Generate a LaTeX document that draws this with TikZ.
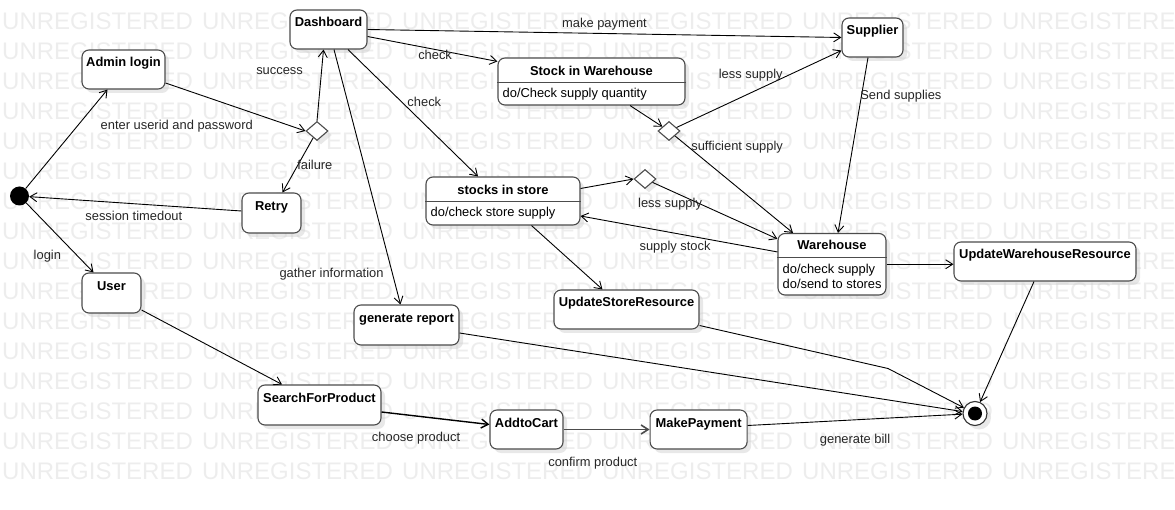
\documentclass[tikz,border=0pt]{standalone}
\usepackage{fontspec}
\setmainfont{Liberation Sans}
\usetikzlibrary{shapes.geometric, arrows.meta, shadows, positioning}

\begin{document}
\begin{tikzpicture}[
    x=1pt, y=-1pt,
    state/.style={rectangle, draw=black!70, line width=1.1pt, fill=white, rounded corners=7pt, minimum height=39pt, inner sep=0pt, text height=9pt, text depth=14pt, font=\fontsize{12.9}{15}\selectfont\bfseries, drop shadow={shadow xshift=4pt, shadow yshift=-4pt, fill=black!18}},
    compstate/.style={rectangle, draw=black!70, line width=1.1pt, fill=white, rounded corners=7pt, inner sep=0pt, drop shadow={shadow xshift=4pt, shadow yshift=-4pt, fill=black!18}},
    choice/.style={diamond, draw=black!70, line width=1.1pt, fill=white, inner sep=0pt, minimum width=22pt, minimum height=19pt, drop shadow={shadow xshift=4pt, shadow yshift=-4pt, fill=black!18}},
    initstate/.style={circle, fill=black, inner sep=0pt, minimum size=19pt},
    endstate/.style={circle, draw=black!80, line width=1.1pt, fill=white, inner sep=0pt, minimum size=24pt, path picture={\fill[black] (path picture bounding box.center) circle (7pt);}, drop shadow={shadow xshift=4pt, shadow yshift=-4pt, fill=black!18}},
    title/.style={font=\fontsize{12.9}{15}\selectfont\bfseries, inner sep=0pt, anchor=base},
    body/.style={font=\fontsize{12.9}{14.7}\selectfont, inner sep=0pt, align=left, anchor=base west},
    divider/.style={draw=black!70, line width=1.1pt},
    lbl/.style={font=\fontsize{12.9}{15}\selectfont, text=black!85, inner sep=1pt},
    line/.style={draw, line width=0.9pt, -{Straight Barb[length=7pt, width=9pt]}},
    watermark/.style={font=\fontsize{24}{24}\selectfont, text=black!7, inner sep=0pt, anchor=west}
]
\useasboundingbox (0,0) rectangle (1175,510);

% Background watermark
\foreach \row in {0,...,15}
  \foreach \col in {0,...,5}
    \node[watermark] (wm-\row-\col) at ({2+200*\col},{21.5+30*\row}) {UNREGISTERED};

% Place the states
\node [initstate] (init) at (19.5,196) {};
\node [state, minimum width=83pt] (admin) at (123.5,69.5) {Admin login};
\node [state, minimum width=77pt] (dash) at (328.5,29.5) {Dashboard};
\node [choice] (d1) at (317,131) {};
\node [state, minimum width=59pt, minimum height=40pt] (retry) at (271.5,213) {Retry};
\node [state, minimum width=59pt, minimum height=40pt] (user) at (111.5,293) {User};
\node [state, minimum width=123pt, minimum height=40pt] (search) at (319.5,405) {SearchForProduct};
\node [state, minimum width=105pt, minimum height=40pt] (report) at (406.5,325) {generate report};
\node [state, minimum width=61pt] (supplier) at (872.5,37.5) {Supplier};
\node [state, minimum width=182pt] (updwh) at (1045,261.5) {UpdateWarehouseResource};
\node [state, minimum width=145pt] (updstore) at (626.5,309.5) {UpdateStoreResource};
\node [state, minimum width=73pt] (cart) at (526.5,429.5) {AddtoCart};
\node [state, minimum width=97pt, right=86pt of cart] (pay) {MakePayment};
\node [choice] (d2) at (669,131) {};
\node [choice] (d3) at (645,179) {};
\node [endstate] (final) at (975,413.5) {};
\coordinate (bend) at (888,368.5);

% States with an activity compartment
\node [compstate, minimum width=187pt, minimum height=47pt] (stockwh) at (591.5,81.5) {};
\node [title] (stockwh-t) at ([yshift=-18pt]stockwh.north) {Stock in Warehouse};
\path [divider] ([yshift=-25pt]stockwh.north west) -- ([yshift=-25pt]stockwh.north east);
\node [body] (stockwh-b) at ([xshift=5pt, yshift=-40.5pt]stockwh.north west) {do/Check supply quantity};

\node [compstate, minimum width=154pt, minimum height=48pt] (store) at (503,201) {};
\node [title] (store-t) at ([yshift=-18pt]store.north) {stocks in store};
\path [divider] ([yshift=-25pt]store.north west) -- ([yshift=-25pt]store.north east);
\node [body] (store-b) at ([xshift=5pt, yshift=-40.3pt]store.north west) {do/check store supply};

\node [compstate, minimum width=108pt, minimum height=61.5pt] (wh) at (832,264.25) {};
\node [title] (wh-t) at ([yshift=-17pt]wh.north) {Warehouse};
\path [divider] ([yshift=-24.5pt]wh.north west) -- ([yshift=-24.5pt]wh.north east);
\node [body] (wh-b) at ([xshift=5pt, yshift=-55.5pt]wh.north west) {do/check supply\\do/send to stores};

% Draw the transitions
\path [line] (init) -- ([xshift=-16pt]admin.south);
\path [line] ([yshift=-13.5pt]admin.east) -- node [lbl, pos=0.08, yshift=-39pt] {enter userid and password} (d1.west);
\path [line] (d1.north) -- node [lbl, pos=0.7, xshift=-42pt] {success} ([xshift=-5pt]dash.south);
\path [line] (d1) -- node [lbl, pos=0.5, xshift=17pt] {failure} ([xshift=11pt]retry.north);
\path [line] ([yshift=2pt]retry.west) -- node [lbl, pos=0.5, xshift=-1.5pt, yshift=-12pt] {session timedout} (init);
\path [line] (init) -- node [lbl, pos=0.76, xshift=-30pt] {login} ([xshift=-18pt]user.north);
\path [line] ([yshift=-17pt]user.east) -- ([xshift=-37.5pt]search.north);
\path [line] ([yshift=-7pt]dash.east) -- node [lbl, pos=0.52, yshift=-5pt] {check} ([yshift=-4pt]stockwh.north west);
\path [line] (dash.east) -- node [lbl, pos=0.5, yshift=9.5pt] {make payment} (supplier.west);
\path [line] ([xshift=19.5pt]dash.south) -- node [lbl, pos=0.41, xshift=23pt] {check} ([xshift=-25pt]store.north);
\path [line] ([xshift=5.5pt]dash.south) -- node [lbl, pos=0.88, xshift=-61pt] {gather information} ([xshift=-6pt]report.north);
\path [line] ([xshift=38.5pt]stockwh.south) -- (d2);
\path [line] (d2) -- node [lbl, pos=0.45, yshift=18pt] {less supply} ([yshift=-13pt]supplier.west);
\path [line] (d2) -- node [lbl, pos=0.12, xshift=48pt] {sufficient supply} ([xshift=-39pt]wh.north);
\path [line] ([yshift=12.5pt]store.east) -- (d3.west);
\path [line] (d3) -- node [lbl, pos=0.14, yshift=-14pt] {less supply} ([yshift=-6pt]wh.north west);
\path [line] ([yshift=-19pt]wh.north west) -- node [lbl, pos=0.52, yshift=-14pt] {supply stock} ([yshift=-15pt]store.east);
\path [line] ([xshift=-4.5pt]supplier.south) -- node [lbl, pos=0.22, xshift=39.5pt] {Send supplies} ([xshift=6pt]wh.north);
\path [line] (wh.east) -- (wh.east -| updwh.west);
\path [line] ([xshift=28.5pt]store.south) -- ([xshift=-24pt]updstore.north);
\path [line] ([yshift=-16pt]updstore.east) -- (bend) -- (final);
\path [line] ([yshift=-8pt]report.east) -- (final);
\path [line, line width=1.4pt] ([yshift=-7pt]search.east) -- node [lbl, pos=0.32, yshift=-22pt] {choose product} ([yshift=5pt]cart.west);
\path [line, draw=black!70, line width=1.6pt] (cart.east) -- node [lbl, pos=0.34, yshift=-33.5pt] {confirm product} (pay.west);
\path [line] ([yshift=4pt]pay.east) -- node [lbl, pos=0.5, yshift=-20pt] {generate bill} (final);
\path [line] ([xshift=-11pt]updwh.south) -- (final);

\end{tikzpicture}
\end{document}
